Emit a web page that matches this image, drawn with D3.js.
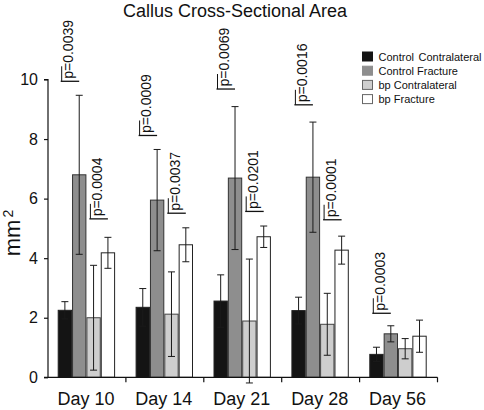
<!DOCTYPE html>
<html>
<head>
<meta charset="utf-8">
<script src="https://cdn.jsdelivr.net/npm/d3@7"></script>
<style>
  html, body { margin: 0; padding: 0; background: #fff; }
  svg { display: block; font-family: "Liberation Sans", Arial, Helvetica, sans-serif; }
</style>
</head>
<body>
<svg id="chart" width="484" height="410"></svg>
<script>
// ---- data ----
const days = ["Day 10", "Day 14", "Day 21", "Day 28", "Day 56"];
const seriesNames = ["Control Contralateral", "Control Fracture", "bp Contralateral", "bp Fracture"];
const controlContralateral = [2.25, 2.35, 2.56, 2.24, 0.77];
const controlContralateralSD = [0.29, 0.63, 0.88, 0.45, 0.24];
const controlFracture = [6.8, 5.95, 6.69, 6.72, 1.46];
const controlFractureSD = [2.67, 1.7, 2.4, 1.85, 0.27];
const bpContralateral = [2.0, 2.12, 1.89, 1.78, 0.96];
const bpContralateralSD = [1.76, 1.42, 2.08, 1.04, 0.34];
const bpFracture = [4.18, 4.45, 4.72, 4.27, 1.38];
const bpFractureSD = [0.52, 0.57, 0.36, 0.47, 0.54];
const yTicks = [0, 2, 4, 6, 8, 10];

// p-value annotations
const pDay = ["Day 10", "Day 10", "Day 14", "Day 14", "Day 21", "Day 21", "Day 28", "Day 28", "Day 56"];
const pSeries = ["Control Contralateral", "bp Contralateral", "Control Contralateral", "bp Contralateral",
                 "Control Contralateral", "bp Contralateral", "Control Contralateral", "bp Contralateral",
                 "Control Contralateral"];
const pLevel = [9.94, 5.32, 8.12, 5.51, 9.68, 5.57, 9.15, 5.29, 2.15];
const pLabel = ["p=0.0039", "p=0.0004", "p=0.0009", "p=0.0037", "p=0.0069", "p=0.0201", "p=0.0016", "p=0.0001", "p=0.0003"];

const means = [controlContralateral, controlFracture, bpContralateral, bpFracture];
const sds = [controlContralateralSD, controlFractureSD, bpContralateralSD, bpFractureSD];
const fills = ["#141414", "#8e8e8e", "#cecece", "#ffffff"];
const strokes = ["#222", "#333", "#444", "#222"];

const bars = [];
days.forEach((d, i) => seriesNames.forEach((s, j) => {
  bars.push({day: d, series: s, idx: j, value: means[j][i], sd: sds[j][i]});
}));

// ---- scales ----
const svg = d3.select("#chart");
const x0 = d3.scaleBand().domain(days).range([48, 437.5]).padding(0);
const x1 = d3.scaleBand().domain(seriesNames).range([9.7, 67.1]).padding(0);
const y = d3.scaleLinear().domain([0, 10]).range([377.3, 79.5]);
const color = d3.scaleOrdinal().domain(seriesNames).range(fills);
const strokeC = d3.scaleOrdinal().domain(seriesNames).range(strokes);

// title
svg.append("text").attr("x", 235).attr("y", 16.5).attr("text-anchor", "middle")
  .attr("font-size", 18).attr("fill", "#111").text("Callus Cross-Sectional Area");

// bars
const g = svg.append("g");
g.selectAll("rect.bar").data(bars).join("rect")
  .attr("class", "bar")
  .attr("x", d => x0(d.day) + x1(d.series) + 0.5)
  .attr("y", d => y(d.value))
  .attr("width", x1.bandwidth() - 1)
  .attr("height", d => y(0) - y(d.value))
  .attr("fill", d => color(d.series))
  .attr("stroke", d => strokeC(d.series))
  .attr("stroke-width", 1);

// error bars
const eb = g.selectAll("g.err").data(bars).join("g").attr("class", "err")
  .attr("stroke", "#1a1a1a").attr("stroke-width", 1);
eb.append("line")
  .attr("x1", d => x0(d.day) + x1(d.series) + x1.bandwidth() / 2)
  .attr("x2", d => x0(d.day) + x1(d.series) + x1.bandwidth() / 2)
  .attr("y1", d => y(d.value - d.sd)).attr("y2", d => y(d.value + d.sd));
[-1, 1].forEach(k => {
  eb.append("line")
    .attr("x1", d => x0(d.day) + x1(d.series) + x1.bandwidth() / 2 - 3.5)
    .attr("x2", d => x0(d.day) + x1(d.series) + x1.bandwidth() / 2 + 3.5)
    .attr("y1", d => y(d.value + k * d.sd)).attr("y2", d => y(d.value + k * d.sd));
});

// y axis
const yAxis = svg.append("g").attr("transform", "translate(48,0)")
  .call(d3.axisLeft(y).tickValues(yTicks).tickSize(4).tickPadding(6).tickFormat(d3.format("d")));
yAxis.select(".domain").attr("d", `M-4,${y(10)}H0V${y(0)}H-4`).attr("stroke", "#111").attr("stroke-width", 1.2);
yAxis.selectAll(".tick line").attr("stroke", "#111").attr("stroke-width", 1.2);
yAxis.selectAll(".tick text").attr("font-size", 16).attr("fill", "#111")
  .attr("font-family", "'Liberation Sans', Arial, sans-serif");

// x axis
const xg = svg.append("g").attr("transform", `translate(0,${y(0)})`);
xg.append("line").attr("x1", 48).attr("x2", 437.5).attr("y1", 0).attr("y2", 0)
  .attr("stroke", "#111").attr("stroke-width", 1.2);
xg.selectAll("line.tk").data(days).join("line").attr("class", "tk")
  .attr("x1", d => x0(d) + x0.bandwidth()).attr("x2", d => x0(d) + x0.bandwidth())
  .attr("y1", 0).attr("y2", 5).attr("stroke", "#111").attr("stroke-width", 1.2);
xg.selectAll("text").data(days).join("text")
  .attr("x", d => x0(d) + x0.bandwidth() / 2 - 1)
  .attr("y", 27.3)
  .attr("text-anchor", "middle").attr("font-size", 18).attr("fill", "#111")
  .text(d => d);

// y label
const yl = svg.append("text").attr("transform", "translate(20,233) rotate(-90)")
  .attr("text-anchor", "middle").attr("font-size", 22).attr("fill", "#111");
yl.append("tspan").text("mm");
yl.append("tspan").attr("font-size", 14).attr("dy", -7).attr("dx", 2).text("2");

// p-value annotations
const ann = svg.append("g").selectAll("g").data(pLabel.map((l, i) => ({
  label: l, day: pDay[i], series: pSeries[i], level: pLevel[i]
}))).join("g");
ann.append("line")
  .attr("x1", d => x0(d.day) + x1(d.series) + 3)
  .attr("x2", d => x0(d.day) + x1(d.series) + 21.5)
  .attr("y1", d => y(d.level)).attr("y2", d => y(d.level))
  .attr("stroke", "#111").attr("stroke-width", 1.3);
ann.append("line")
  .attr("x1", d => x0(d.day) + x1(d.series) + 4)
  .attr("x2", d => x0(d.day) + x1(d.series) + 4)
  .attr("y1", d => y(d.level)).attr("y2", d => y(d.level) - 15)
  .attr("stroke", "#111").attr("stroke-width", 1);
ann.append("text")
  .attr("transform", d => `translate(${x0(d.day) + x1(d.series) + 15.5},${y(d.level) - 2.5}) rotate(-90)`)
  .attr("font-size", 14).attr("fill", "#111").text(d => d.label);

// legend
const lg = svg.append("g").attr("transform", "translate(362,51.5)");
const li = lg.selectAll("g").data(seriesNames).join("g")
  .attr("transform", (d, i) => `translate(0,${i * 14.2})`);
li.append("rect").attr("x", 0.5).attr("y", 0.5).attr("width", 10).attr("height", 9)
  .attr("fill", d => color(d)).attr("stroke", (d, i) => i < 2 ? color(d) : "#666").attr("stroke-width", 1);
li.append("text").attr("x", 16.5).attr("y", 9.3).attr("font-size", 11).attr("fill", "#111")
  .attr("word-spacing", d => d === "Control Contralateral" ? 1.5 : 0)
  .text(d => d);
</script>
</body>
</html>
